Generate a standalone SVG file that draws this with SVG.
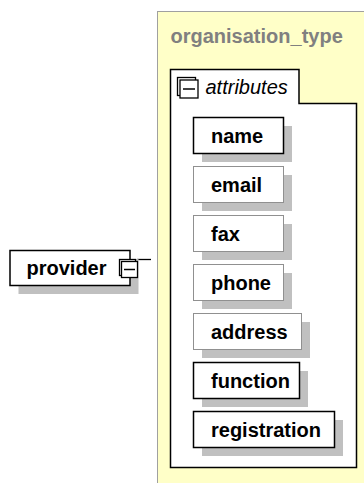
<svg xmlns="http://www.w3.org/2000/svg" width="364" height="483" viewBox="0 0 364 483">
<style>
text{font-family:"Liberation Sans",Arial,sans-serif;font-size:20px;}
.lbl{font-weight:bold;fill:#000;}
.ttl{font-weight:bold;fill:#808080;}
.it{font-style:italic;fill:#000;}
.shadow{fill:#c0c0c0;stroke:none;}
.req{fill:#fff;stroke:#000;stroke-width:1.5;}
.opt{fill:#fff;stroke:#909090;stroke-width:1;}
.icon{fill:#fff;stroke:#000;stroke-width:1.3;}
</style>
<rect width="364" height="483" fill="#fff"/>
<g id="organisation_type">
<rect x="157.5" y="11.5" width="220" height="480" fill="#ffffc8" stroke="#a0a0a0" stroke-width="1"/>
<text class="ttl" x="170.5" y="43">organisation_type</text>
</g>
<g id="attributes">
<path d="M170.5,103.5 V69.5 H299 V103.5 H356.5 V467.5 H170.5 Z" fill="#fff" stroke="#000" stroke-width="1.5"/>
<rect class="icon" x="177.5" y="77.5" width="18" height="18"/>
<rect class="icon" x="180" y="80" width="18" height="18"/>
<line x1="183" y1="89" x2="195" y2="89" stroke="#000" stroke-width="1.5"/>
<text class="it" x="205.5" y="94">attributes</text>
</g>
<g id="connectors">
<line x1="137" y1="259.5" x2="151" y2="259.5" stroke="#000" stroke-width="1.3"/>
</g>
<g id="provider">
<rect class="shadow" x="18.5" y="259" width="120" height="35"/>
<rect class="req" x="10" y="250.5" width="120" height="35"/>
<text class="lbl" x="26.5" y="275">provider</text>
<rect class="icon" x="119.5" y="259.5" width="16" height="16"/>
<rect class="icon" x="121.5" y="261.5" width="16" height="16"/>
<line x1="124" y1="269.5" x2="135" y2="269.5" stroke="#000" stroke-width="1.5"/>
</g>
<g id="name">
<rect class="shadow" x="202" y="126" width="90" height="36"/>
<rect class="req" x="193.5" y="117.5" width="90" height="36"/>
<text class="lbl" x="211" y="143">name</text>
</g>
<g id="email">
<rect class="shadow" x="202" y="175" width="90" height="36"/>
<rect class="opt" x="193.5" y="166.5" width="90" height="36"/>
<text class="lbl" x="211" y="192">email</text>
</g>
<g id="fax">
<rect class="shadow" x="202" y="224" width="90" height="36"/>
<rect class="opt" x="193.5" y="215.5" width="90" height="36"/>
<text class="lbl" x="211" y="241">fax</text>
</g>
<g id="phone">
<rect class="shadow" x="202" y="273" width="90" height="36"/>
<rect class="opt" x="193.5" y="264.5" width="90" height="36"/>
<text class="lbl" x="211" y="290">phone</text>
</g>
<g id="address">
<rect class="shadow" x="202" y="322" width="108" height="36"/>
<rect class="opt" x="193.5" y="313.5" width="108" height="36"/>
<text class="lbl" x="211" y="339">address</text>
</g>
<g id="function">
<rect class="shadow" x="202" y="371" width="106" height="36"/>
<rect class="req" x="193.5" y="362.5" width="106" height="36"/>
<text class="lbl" x="211" y="388">function</text>
</g>
<g id="registration">
<rect class="shadow" x="202" y="420" width="141" height="36"/>
<rect class="req" x="193.5" y="411.5" width="141" height="36"/>
<text class="lbl" x="211" y="437">registration</text>
</g>
</svg>
